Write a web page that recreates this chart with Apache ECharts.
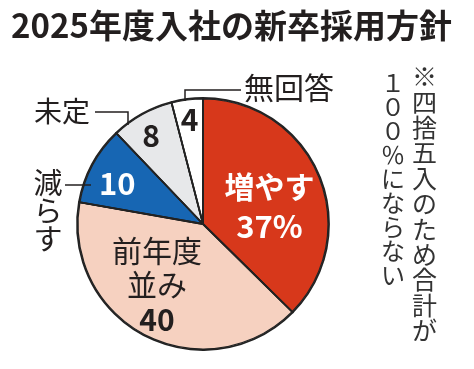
<!DOCTYPE html>
<html><head><meta charset="utf-8">
<script src="https://cdn.jsdelivr.net/npm/echarts@6/dist/echarts.min.js"></script>
<style>html,body{margin:0;padding:0;background:#fff}#c{width:474px;height:369px}</style>
</head><body><div id="c"></div>
<script>
const titleText = '2025年度入社の新卒採用方針';
const categories = ['増やす', '前年度並み', '減らす', '未定', '無回答'];
const values = [37, 40, 10, 8, 4];
const valueLabels = ['37%', '40', '10', '8', '4'];
const noteText = '※四捨五入のため合計が１００％にならない';

const colors = ['#d7381b', '#f6d1c0', '#1766b3', '#e7e8ea', '#ffffff'];
const FONT = '"Noto Sans CJK JP", sans-serif';
const CENTER = [203, 224], R = 125;

const innerFmt = [
  '{w|増やす}\n{wb|' + valueLabels[0] + '}',
  '{n|前年度}\n{n|並み}\n{b|' + valueLabels[1] + '}',
  '{wb|' + valueLabels[2] + '}',
  '{b|' + valueLabels[3] + '}',
  '{b|' + valueLabels[4] + '}'
];
const innerShift = [[6, 8], [-16, 3], [-28, -10], [-20, -31], [-5, -39]];

const outerShow = [false, false, true, true, true];
const outerText = ['', '', '減\nら\nす', '未定', '無回答'];
const outerSize = { 2: 29, 3: 28, 4: 30 };
const outerPos = { 2: [48, 211], 3: [62, 111], 4: [289, 88] };
const outerLines = {
  2: [[65, 185], [91, 185], [91, 185]],
  3: [[95, 112], [128, 112], [128, 125]],
  4: [[241, 90], [185, 90], [185, 101]]
};

const chart = echarts.init(document.getElementById('c'), null, { renderer: 'canvas' });

const noteRight = noteText.slice(0, 11).split('').join('\n');
const noteLeft = noteText.slice(11).split('').join('\n');

chart.setOption({
  animation: false,
  title: {
    text: titleText, left: 6, top: 4,
    textStyle: { fontFamily: FONT, fontWeight: 'bold', fontSize: 33, color: '#231f1f' }
  },
  graphic: [
    { type: 'text', left: 412, top: 64, style: { text: noteRight, font: '25px ' + FONT, fill: '#333', lineHeight: 25.4 } },
    { type: 'text', left: 381, top: 71, style: { text: noteLeft, font: '24px ' + FONT, fill: '#333', lineHeight: 24 } }
  ],
  series: [
    {
      type: 'pie', center: CENTER, radius: [0, R], startAngle: 90, clockwise: true,
      silent: true,
      itemStyle: { borderColor: '#222', borderWidth: 1.2 },
      data: categories.map((c, i) => ({
        name: c, value: values[i],
        itemStyle: { color: colors[i] },
        label: { formatter: innerFmt[i] }
      })),
      label: {
        show: true, position: 'inside', fontFamily: FONT,
        rich: {
          w: { color: '#fff', fontFamily: FONT, fontWeight: 'bold', fontSize: 30, lineHeight: 40 },
          wb: { color: '#fff', fontFamily: FONT, fontWeight: 'bold', fontSize: 31, lineHeight: 40 },
          n: { color: '#231f1f', fontFamily: FONT, fontSize: 30, lineHeight: 34 },
          b: { color: '#231f1f', fontFamily: FONT, fontWeight: 'bold', fontSize: 30, lineHeight: 36 }
        }
      },
      labelLine: { show: false },
      labelLayout: function (p) {
        const s = innerShift[p.dataIndex];
        return { dx: s[0], dy: s[1] };
      }
    },
    {
      type: 'pie', center: CENTER, radius: [0, R + 1], startAngle: 90, clockwise: true,
      silent: true, z: 3,
      itemStyle: { color: 'transparent', borderColor: '#222', borderWidth: 1.8 },
      data: categories.map((c, i) => ({
        name: c, value: values[i],
        itemStyle: { color: 'transparent' },
        label: { show: outerShow[i], formatter: outerText[i], fontSize: outerSize[i] || 28 },
        labelLine: { show: outerShow[i] }
      })),
      label: {
        position: 'outside', fontFamily: FONT, fontSize: 28, color: '#231f1f',
        lineHeight: 28, align: 'center'
      },
      labelLine: { lineStyle: { color: '#231f1f', width: 1.5 } },
      labelLayout: function (p) {
        const i = p.dataIndex;
        if (!outerPos[i]) return {};
        return {
          x: outerPos[i][0], y: outerPos[i][1], align: 'center', verticalAlign: 'middle',
          labelLinePoints: outerLines[i]
        };
      }
    }
  ]
});
</script></body></html>
